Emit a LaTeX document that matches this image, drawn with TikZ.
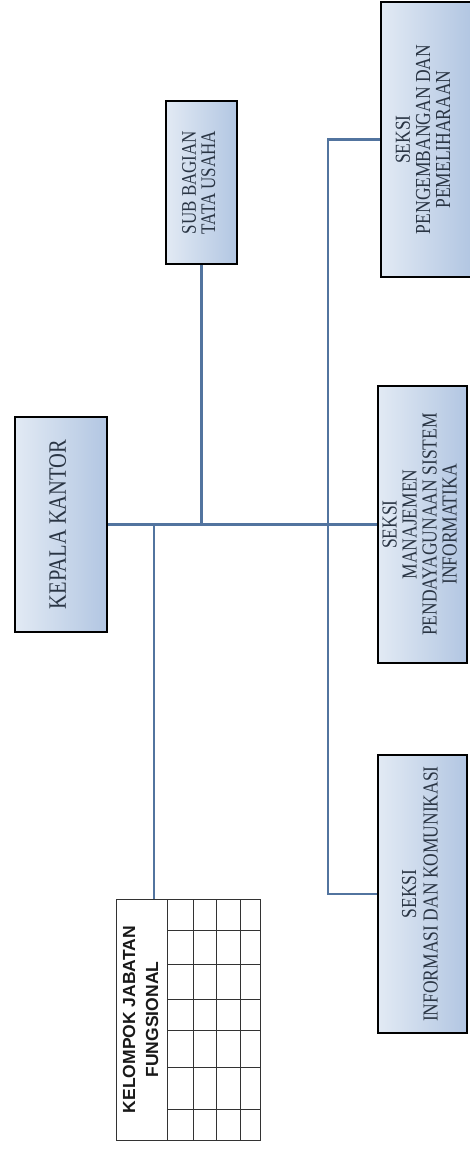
\documentclass[tikz,border=0pt]{standalone}
\usepackage{fontspec}
\setmainfont{Liberation Serif}
\newfontfamily\kfont{Liberation Sans}
\usepackage{graphicx}
\usetikzlibrary{backgrounds}
\definecolor{boxl}{HTML}{E2EAF4}
\definecolor{boxr}{HTML}{B2C6E2}
\definecolor{linec}{HTML}{52749F}
\definecolor{txtc}{HTML}{2A3544}
\newcommand\boxtext[3]{\rotatebox{90}{\scalebox{1}[1.22]{\fontsize{#1}{#2}\selectfont\begin{tabular}{@{}c@{}}#3\end{tabular}}}}
\tikzset{
  orgbox/.style={draw=black, line width=2.3pt, left color=boxl, right color=boxr,
    inner sep=0pt, text=txtc},
  gridbox/.style={draw=black!80, line width=0.9pt, fill=white, inner sep=0pt},
  gridline/.style={draw=black!80, line width=0.9pt},
  kftext/.style={inner sep=0pt, text=black!90, font=\kfont\bfseries},
  conn/.style={draw=linec, line width=2.4pt}
}
\begin{document}
\begin{tikzpicture}[x=1pt,y=-1pt]
\useasboundingbox (0,0) rectangle (469,1149);
% boxes
\node[orgbox, minimum width=92pt, minimum height=215pt] (kk) at (61,524.5)
  {\boxtext{20.5}{18}{KEPALA KANTOR}};
\node[orgbox, minimum width=71pt, minimum height=163pt] (sb) at (201.5,182.5)
  {\boxtext{17}{15.5}{SUB BAGIAN\\TATA USAHA}};
\node[orgbox, minimum width=90pt, minimum height=275pt] (pp) at (426,139.5)
  {\boxtext{17.5}{16.4}{SEKSI\\PENGEMBANGAN DAN\\PEMELIHARAAN}};
\node[orgbox, minimum width=89pt, minimum height=277pt] (mm) at (422.5,524.5)
  {\boxtext{17.5}{16}{SEKSI\\MANAJEMEN\\PENDAYAGUNAAN SISTEM\\INFORMATIKA}};
\node[orgbox, minimum width=89pt, minimum height=278pt] (ii) at (422.5,894)
  {\boxtext{17.5}{17.6}{SEKSI\\INFORMASI DAN KOMUNIKASI}};
% kelompok jabatan fungsional
\node[gridbox, minimum width=144pt, minimum height=241pt] (kf) at (188,1019.5) {};
\foreach \gx in {167,193,216,240} \draw[gridline] (\gx,899) -- (\gx,1140);
\foreach \gy in {930,964,999,1030,1067,1109} \draw[gridline] (167,\gy) -- (260,\gy);
\node[kftext] (kft) at (142,1019.5)
  {\rotatebox{90}{\fontsize{17.5}{23}\selectfont\begin{tabular}{@{}c@{}}KELOMPOK JABATAN\\FUNGSIONAL\end{tabular}}};
% connectors
\begin{scope}[on background layer]
\fill[white] (0,0) rectangle (469,1149);
\coordinate (kj) at (154,525);
\draw[conn] (kk.east) -- (mm.west);
\draw[conn] (sb.south) -- (sb.south |- kk.east);
\draw[conn] (kj) -- (kj |- kf.north);
\draw[conn] (pp.west) -- ++(-52,0) |- (ii.west);
\end{scope}
\end{tikzpicture}
\end{document}
